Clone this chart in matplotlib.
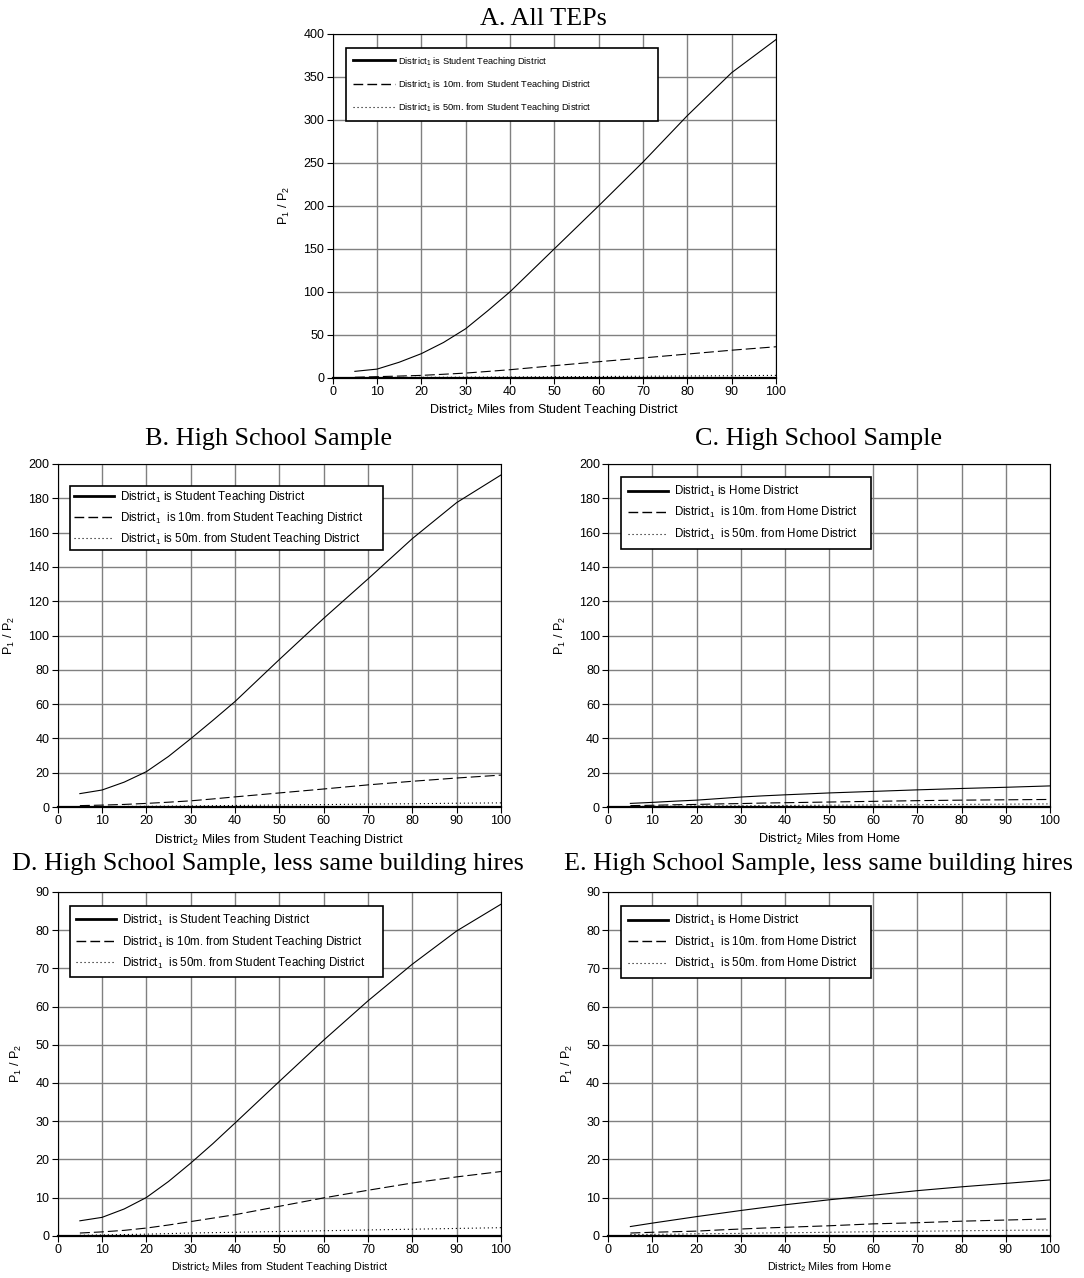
import matplotlib
matplotlib.use("Agg")
from matplotlib import pyplot as plt
from matplotlib.lines import Line2D

plt.rcParams['font.family'] = ['Liberation Sans', 'DejaVu Sans']
plt.rcParams['mathtext.fontset'] = 'custom'
plt.rcParams['mathtext.rm'] = 'Liberation Sans'
plt.rcParams['mathtext.default'] = 'regular'

# miles from district 2
miles = [5, 10, 15, 20, 25, 30, 35, 40, 50, 60, 70, 80, 90, 100]

# A. All TEPs
a_same = [7.4, 10, 18, 28, 41, 57, 78, 100, 150, 200, 251, 305, 355, 393.5]
a_10m = [0.5, 1.2, 1.9, 2.7, 4.0, 5.4, 7.3, 9.3, 14, 18.6, 23, 27.5, 32, 36]
a_50m = [0.1, 0.2, 0.3, 0.4, 0.5, 0.6, 0.7, 0.8, 1.1, 1.4, 1.7, 2.0, 2.3, 2.7]

# B. High School Sample (student teaching)
b_same = [7.8, 9.9, 14.5, 20.6, 29.5, 39.8, 50.5, 61.5, 86, 110, 133, 156.5, 177.5, 193.6]
b_10m = [0.8, 1.1, 1.5, 2.1, 2.8, 3.6, 4.7, 5.9, 8.2, 10.5, 12.9, 15, 16.9, 18.6]
b_50m = [0.1, 0.2, 0.3, 0.4, 0.5, 0.6, 0.75, 0.9, 1.2, 1.4, 1.7, 1.9, 2.2, 2.4]

# C. High School Sample (home)
c_same = [2.1, 2.7, 3.4, 4.0, 4.9, 5.8, 6.5, 7.1, 8.2, 9.1, 10.0, 10.8, 11.5, 12.3]
c_10m = [0.8, 1.0, 1.3, 1.5, 1.8, 2.0, 2.3, 2.5, 2.9, 3.3, 3.7, 4.0, 4.2, 4.4]
c_50m = [0.3, 0.4, 0.5, 0.6, 0.65, 0.7, 0.8, 0.9, 1.05, 1.2, 1.35, 1.5, 1.65, 1.8]

# D. less same building hires (student teaching)
d_same = [3.9, 4.8, 7.0, 10.0, 14.2, 19.0, 24.1, 29.5, 40.4, 51.2, 61.5, 71.1, 79.8, 86.8]
d_10m = [0.7, 1.0, 1.4, 2.0, 2.8, 3.7, 4.6, 5.5, 7.7, 9.9, 11.9, 13.8, 15.4, 16.8]
d_50m = [0.1, 0.2, 0.3, 0.4, 0.55, 0.7, 0.8, 0.9, 1.1, 1.3, 1.5, 1.7, 1.9, 2.1]

# E. less same building hires (home)
e_same = [2.4, 3.3, 4.15, 5.0, 5.8, 6.6, 7.35, 8.1, 9.4, 10.6, 11.8, 12.8, 13.7, 14.6]
e_10m = [0.7, 0.9, 1.05, 1.2, 1.5, 1.75, 2.0, 2.2, 2.6, 3.1, 3.4, 3.8, 4.1, 4.4]
e_50m = [0.3, 0.35, 0.4, 0.5, 0.55, 0.6, 0.7, 0.75, 0.9, 1.05, 1.15, 1.3, 1.4, 1.5]

st_labels = ["District$_1$ is Student Teaching District",
             "District$_1$ is 10m. from Student Teaching District",
             "District$_1$ is 50m. from Student Teaching District"]
b_labels = ["District$_1$ is Student Teaching District",
            "District$_1$  is 10m. from Student Teaching District",
            "District$_1$ is 50m. from Student Teaching District"]
d_labels = ["District$_1$  is Student Teaching District",
            "District$_1$ is 10m. from Student Teaching District",
            "District$_1$  is 50m. from Student Teaching District"]
home_labels = ["District$_1$ is Home District",
               "District$_1$  is 10m. from Home District",
               "District$_1$  is 50m. from Home District"]

W, H = 1084, 1278
fig = plt.figure(figsize=(W / 100, H / 100), dpi=100)


def add_ax(x0, y0, x1, y1):
    return fig.add_axes([x0 / W, 1 - y1 / H, (x1 - x0) / W, (y1 - y0) / H])


def panel(ax, series, labels, ymax, ystep, xlabel, xl_size, title, title_y,
          leg_lr, leg_tb, leg_size, leg_spacing, leg_pad, hlen, hpad):
    styles = [dict(ls='-'), dict(dashes=(9, 3.6)), dict(dashes=(1, 2.6))]
    for ys, st in zip(series, styles):
        ax.plot(miles, ys, color='black', lw=0.8, **st)
    ax.set_xlim(0, 100)
    ax.set_ylim(0, ymax)
    ax.set_xticks(range(0, 101, 10))
    ax.set_yticks(range(0, ymax + 1, ystep))
    ax.grid(True, color='#808080', lw=1.0)
    ax.set_axisbelow(True)
    ax.tick_params(direction='out', length=4, width=0.8, labelsize=9, pad=2)
    for s in ax.spines.values():
        s.set_linewidth(0.8)
    ax.spines['bottom'].set_linewidth(1.6)
    ax.set_xlabel(xlabel, fontsize=xl_size, labelpad=3)
    ax.set_ylabel("P$_1$ / P$_2$", fontsize=9, labelpad=8)
    ax.text(0.5 - 11 / 443, 1 + title_y / 344, title, transform=ax.transAxes,
            ha='center', va='baseline', fontsize=18.8,
            family=['Liberation Serif', 'DejaVu Serif'])
    handles = [Line2D([], [], color='black', lw=2),
               Line2D([], [], color='black', lw=1, dashes=(7, 3)),
               Line2D([], [], color='black', lw=0.8, dashes=(1, 2.6))]
    x0, x1 = leg_lr
    top, bot = leg_tb
    leg = ax.legend(handles, labels, loc='upper left', mode='expand',
                    bbox_to_anchor=(x0, bot, x1 - x0, top - bot),
                    fontsize=leg_size, borderaxespad=0,
                    handlelength=hlen, handletextpad=hpad,
                    labelspacing=leg_spacing, borderpad=leg_pad,
                    fancybox=False, framealpha=1, edgecolor='black')
    leg.get_frame().set_linewidth(1.2)


ax_a = add_ax(332.7, 34, 776, 377.7)
panel(ax_a, [a_same, a_10m, a_50m], st_labels, 400, 50,
      "District$_2$ Miles from Student Teaching District", 9,
      "A. All TEPs", 9, (0.030, 0.734), (0.959, 0.756), 6.7, 1.1, 0.7,
      4.6, 0.3)

ax_b = add_ax(57.7, 464, 501, 807)
panel(ax_b, [b_same, b_10m, b_50m], b_labels, 200, 20,
      "District$_2$ Miles from Student Teaching District", 9,
      "B. High School Sample", 19, (0.028, 0.734), (0.936, 0.755), 8.3,
      0.4, 0.3, 3.5, 0.5)

ax_c = add_ax(608.3, 464, 1050, 807)
panel(ax_c, [c_same, c_10m, c_50m], home_labels, 200, 20,
      "District$_2$ Miles from Home", 9,
      "C. High School Sample", 19, (0.029, 0.595), (0.962, 0.755), 8.3,
      0.55, 0.6, 3.5, 0.5)

ax_d = add_ax(57.7, 892, 501, 1235.7)
panel(ax_d, [d_same, d_10m, d_50m], d_labels, 90, 10,
      "District$_2$ Miles from Student Teaching District", 7.8,
      "D. High School Sample, less same building hires", 22,
      (0.028, 0.734), (0.959, 0.753), 8.3, 0.5, 0.5, 3.5, 0.5)

ax_e = add_ax(608.3, 892, 1050, 1235.7)
panel(ax_e, [e_same, e_10m, e_50m], home_labels, 90, 10,
      "District$_2$ Miles from Home", 7.8,
      "E. High School Sample, less same building hires", 22,
      (0.029, 0.595), (0.959, 0.753), 8.3, 0.55, 0.6, 3.5, 0.5)

fig.savefig("out.png", dpi=100)
